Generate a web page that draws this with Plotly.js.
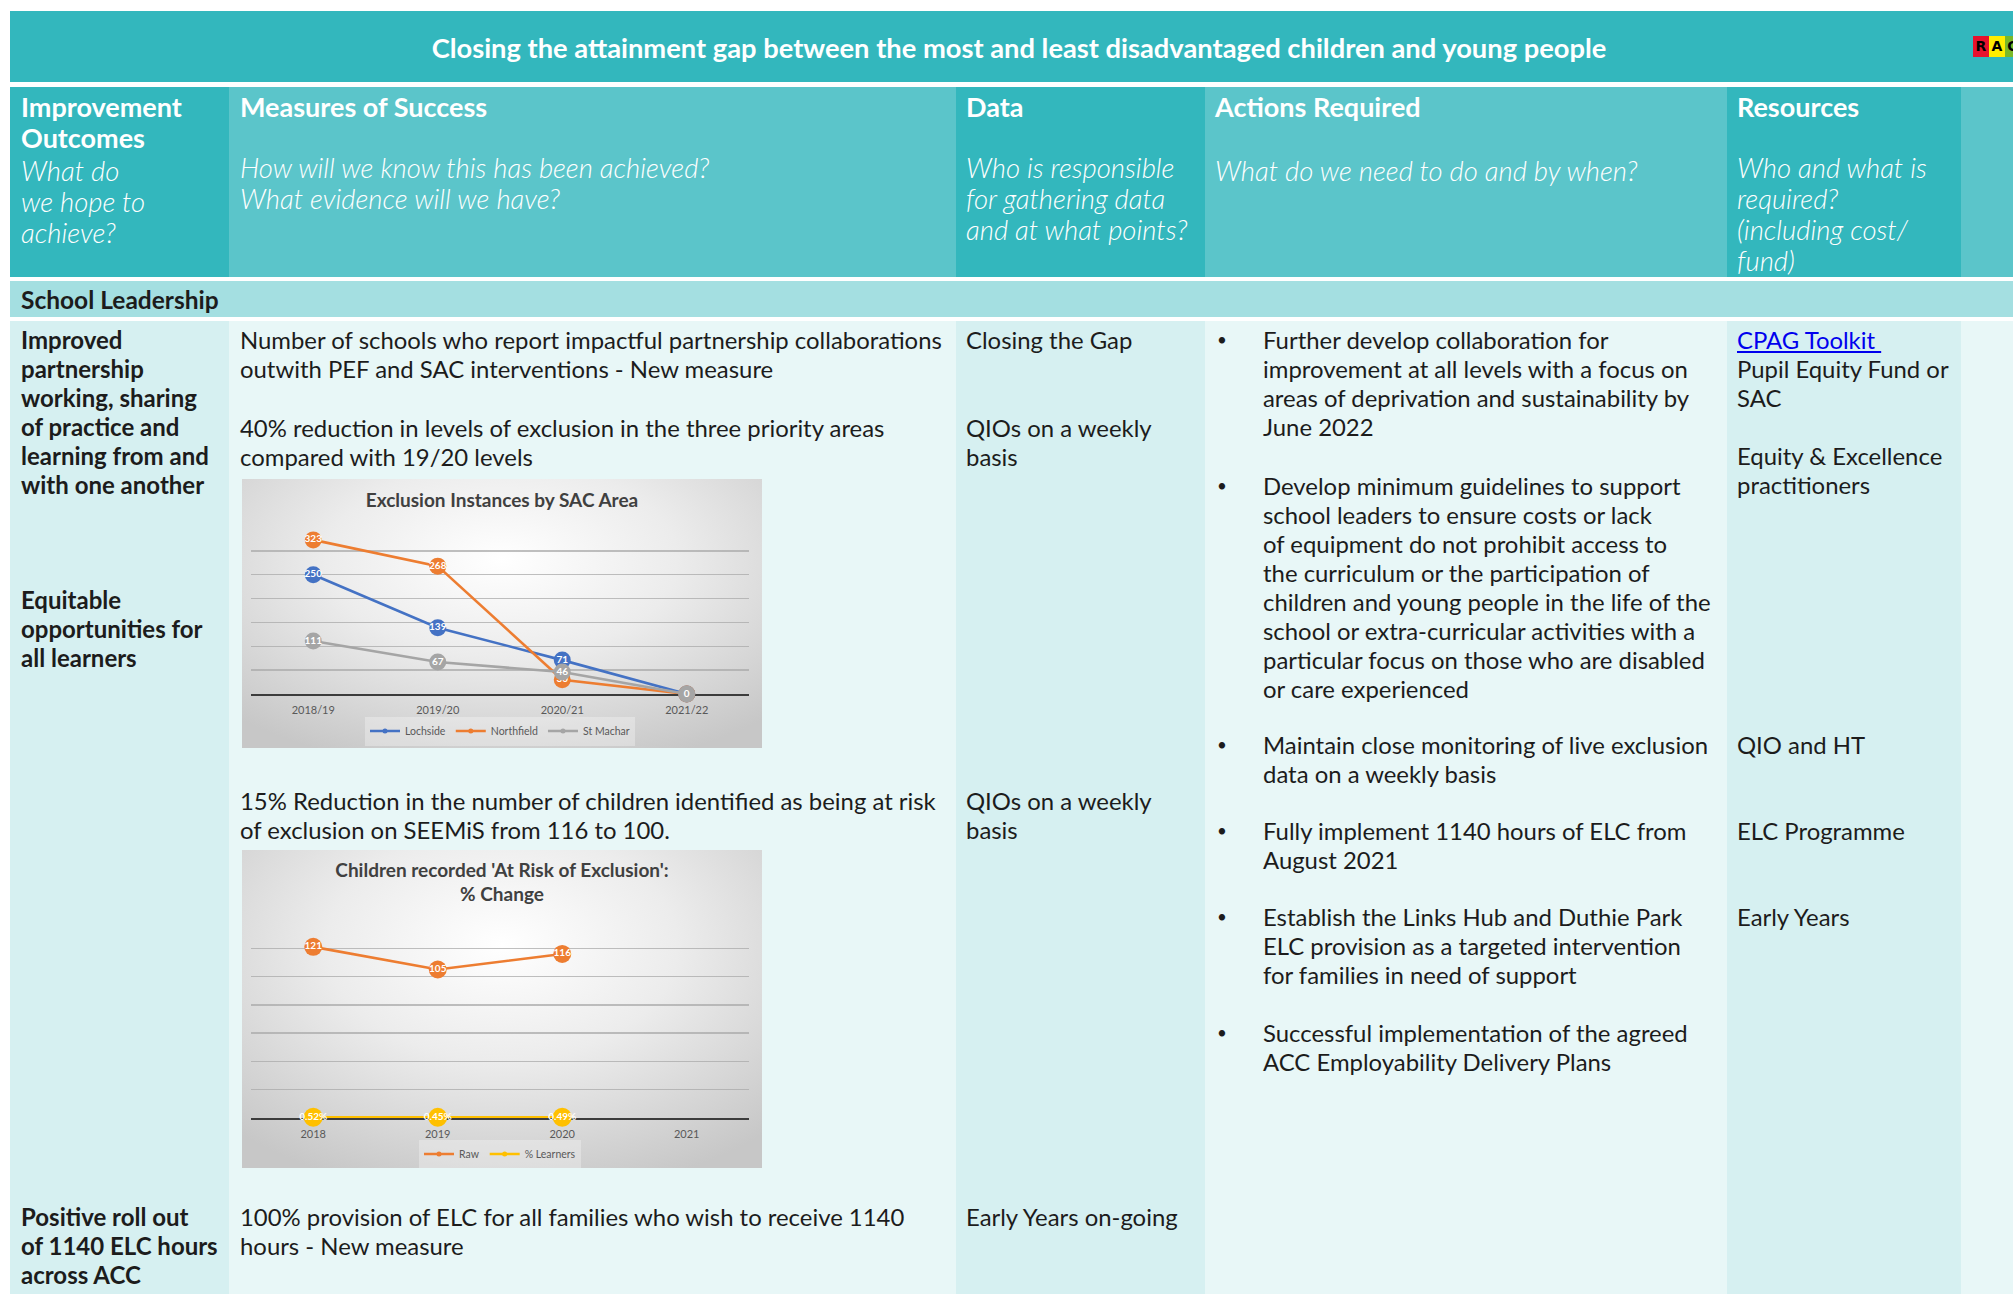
<!DOCTYPE html>
<html>
<head>
<meta charset="utf-8">
<script src="https://cdn.plot.ly/plotly-3.0.1.min.js"></script>
<style>
  html, body { margin:0; padding:0; background:#ffffff; }
  body { width:2013px; height:1294px; overflow:hidden; position:relative; font-family:"Lato", "Open Sans", sans-serif; }
  .bg { position:absolute; }
  .t { position:absolute; white-space:nowrap; }
  .hb { font-weight:700; font-size:27px; line-height:31px; color:#ffffff; }
  .hi { font-weight:300; font-style:italic; font-size:27.5px; line-height:31px; color:#ffffff; }
  .b  { font-weight:400; font-size:23.9px; line-height:29px; color:#1c1c1c; }
  .bb { font-weight:700; font-size:24px; line-height:29px; color:#1c1c1c; }
  .bul { font-size:17px; line-height:29px; color:#1c1c1c; }
  .link { color:#0000ee; text-decoration:underline; }
  .chart { position:absolute; background: radial-gradient(ellipse 75% 80% at 50% 30%, #ffffff 0%, #ececec 45%, #c7c7c7 100%); }
  .rag { position:absolute; top:36px; width:16px; height:21px; font-weight:900; font-size:14px; line-height:21px; text-align:center; color:#000; font-family:"DejaVu Sans", sans-serif; }
</style>
</head>
<body>
<div id="page"></div>
<div id="chart1" class="chart" style="left:242px; top:479px; width:520px; height:269px;"></div>
<div id="chart2" class="chart" style="left:242px; top:850px; width:520px; height:318px;"></div>
<script>
// ---------------- chart data ----------------
const sacYears = ['2018/19', '2019/20', '2020/21', '2021/22'];
const lochside = [250, 139, 71, 0];
const northfield = [323, 268, 30, 0];
const stMachar = [111, 67, 46, 0];

const riskYears = ['2018', '2019', '2020', '2021'];
const riskRaw = [121, 105, 116, null];
const riskPctLearners = [0.52, 0.45, 0.49, null];

// ---------------- table text ----------------
const pageTitle = 'Closing the attainment gap between the most and least disadvantaged children and young people';
const headerBold = ['Improvement<br>Outcomes', 'Measures of Success', 'Data', 'Actions Required', 'Resources'];
const headerItalic = [
  'What do<br>we hope to<br>achieve?',
  'How will we know this has been achieved?<br>What evidence will we have?',
  'Who is responsible<br>for gathering data<br>and at what points?',
  'What do we need to do and by when?',
  'Who and what is<br>required?<br>(including cost/<br>fund)'
];
const sectionName = 'School Leadership';

// ---------------- layout geometry (px) ----------------
const colX = [10, 229, 956, 1205, 1727, 1961, 2100];
const darkCol = [true, false, true, false, true, false];
const page = document.getElementById('page');

function rect(x, y, w, h, c) {
  const d = document.createElement('div');
  d.className = 'bg';
  d.style.cssText = `left:${x}px;top:${y}px;width:${w}px;height:${h}px;background:${c};`;
  page.appendChild(d);
}
function txt(x, top, cls, html, extra) {
  const d = document.createElement('div');
  d.className = 't ' + cls;
  d.style.left = x + 'px';
  d.style.top = top + 'px';
  if (extra) d.style.cssText += extra;
  d.innerHTML = html;
  page.appendChild(d);
  return d;
}

// title band
rect(10, 11, 2100, 71, '#33b7bd');
// header row
for (let i = 0; i < 6; i++) rect(colX[i], 87, colX[i + 1] - colX[i], 190, darkCol[i] ? '#33b7bd' : '#5bc5ca');
// section row
rect(10, 281, 2100, 36, '#a4dfe1');
// body
for (let i = 0; i < 6; i++) rect(colX[i], 321, colX[i + 1] - colX[i], 1000, darkCol[i] ? '#d6f0f1' : '#e8f7f7');

// title text
txt(0, 48 - 16.5, 'hb', pageTitle, 'font-size:27.3px;width:2038px;text-align:center;');
// RAG squares
[['R', '#e8112d', 1973], ['A', '#ffed00', 1989], ['G', '#7ab929', 2005]].forEach(r => {
  const d = document.createElement('div');
  d.className = 'rag';
  d.style.left = r[2] + 'px';
  d.style.background = r[1];
  d.textContent = r[0];
  page.appendChild(d);
});

// header texts
const hx = [21, 240, 966, 1215, 1737];
const hiY = [171, 168, 168, 171, 168];
for (let i = 0; i < 5; i++) {
  txt(hx[i], 108 - 17.5, 'hb', headerBold[i]);
  txt(hx[i], hiY[i] - 16.5, 'hi', headerItalic[i]);
}

// section
txt(21, 300 - 15, 'bb', sectionName, 'font-size:24.5px;');

// body text blocks: [x, yCenterOfFirstLine, class, html]
const bodyBlocks = [
  [21, 340, 'bb', 'Improved<br>partnership<br>working, sharing<br>of practice and<br>learning from and<br>with one another'],
  [21, 600, 'bb', 'Equitable<br>opportunities for<br>all learners'],
  [21, 1217, 'bb', 'Positive roll out<br>of 1140 ELC hours<br>across ACC'],

  [240, 340, 'b', 'Number of schools who report impactful partnership collaborations<br>outwith PEF and SAC interventions - New measure'],
  [240, 428, 'b', '40% reduction in levels of exclusion in the three priority areas<br>compared with 19/20 levels'],
  [240, 801, 'b', '15% Reduction in the number of children identified as being at risk<br>of exclusion on SEEMiS from 116 to 100.'],
  [240, 1217, 'b', '100% provision of ELC for all families who wish to receive 1140<br>hours - New measure'],

  [966, 340, 'b', 'Closing the Gap'],
  [966, 428, 'b', 'QIOs on a weekly<br>basis'],
  [966, 801, 'b', 'QIOs on a weekly<br>basis'],
  [966, 1217, 'b', 'Early Years on-going'],

  [1263, 340, 'b', 'Further develop collaboration for<br>improvement at all levels with a focus on<br>areas of deprivation and sustainability by<br>June 2022'],
  [1263, 486, 'b', 'Develop minimum guidelines to support<br>school leaders to ensure costs or lack<br>of equipment do not prohibit access to<br>the curriculum or the participation of<br>children and young people in the life of the<br>school or extra-curricular activities with a<br>particular focus on those who are disabled<br>or care experienced'],
  [1263, 745, 'b', 'Maintain close monitoring of live exclusion<br>data on a weekly basis'],
  [1263, 831, 'b', 'Fully implement 1140 hours of ELC from<br>August 2021'],
  [1263, 917, 'b', 'Establish the Links Hub and Duthie Park<br>ELC provision as a targeted intervention<br>for families in need of support'],
  [1263, 1033, 'b', 'Successful implementation of the agreed<br>ACC Employability Delivery Plans'],

  [1737, 340, 'b', '<span class="link">CPAG Toolkit&nbsp;</span><br>Pupil Equity Fund or<br>SAC'],
  [1737, 456, 'b', 'Equity &amp; Excellence<br>practitioners'],
  [1737, 745, 'b', 'QIO and HT'],
  [1737, 831, 'b', 'ELC Programme'],
  [1737, 917, 'b', 'Early Years']
];
bodyBlocks.forEach(b => txt(b[0], b[1] - 15, b[2], b[3]));
// bullets
[340, 486, 745, 831, 917, 1033].forEach(y => txt(1217, y - 15, 'bul', '&#8226;'));

// ---------------- charts ----------------
const FONT = 'Lato, "Open Sans", sans-serif';
const labelFont = { family: FONT, size: 10, color: '#ffffff', weight: 700 };

function lineTrace(x, y, name, color, textFmt) {
  return {
    x: x, y: y, name: name, type: 'scatter', mode: 'lines+markers+text',
    line: { color: color, width: 2.6 },
    marker: { color: color, size: 17 },
    text: y.map(v => v === null ? '' : textFmt(v)),
    textposition: 'middle center',
    textfont: labelFont,
    cliponaxis: false,
    showlegend: false,
    hoverinfo: 'skip'
  };
}
function legendTrace(x, name, color) {
  return {
    x: [x[0]], y: [null], name: name, type: 'scatter', mode: 'lines+markers',
    line: { color: color, width: 2.6 }, marker: { color: color, size: 5 },
    showlegend: true, hoverinfo: 'skip'
  };
}
function baseLayout(w, h, m, yRange, dtick, titleText, titleY, legendY) {
  return {
    width: w, height: h,
    margin: m,
    paper_bgcolor: 'rgba(0,0,0,0)',
    plot_bgcolor: 'rgba(0,0,0,0)',
    font: { family: FONT, color: '#595959' },
    title: {
      text: titleText,
      font: { family: FONT, size: 19, color: '#404040' },
      x: 0.5, xanchor: 'center', xref: 'container',
      y: titleY, yanchor: 'middle', yref: 'container'
    },
    xaxis: {
      type: 'category', range: [-0.5, 3.5], showgrid: false,
      showline: true, linecolor: '#3c3c3c', linewidth: 2,
      ticks: '', tickfont: { family: FONT, size: 11, color: '#595959' },
      ticklabelstandoff: 5, layer: 'below traces', fixedrange: true
    },
    yaxis: {
      range: yRange, tick0: 0, dtick: dtick, showticklabels: false,
      showgrid: true, gridcolor: 'rgba(170,170,170,0.75)', gridwidth: 1.5,
      zeroline: false, showline: false, ticks: '', layer: 'below traces', fixedrange: true
    },
    showlegend: true,
    legend: {
      orientation: 'h', x: 0.5, xanchor: 'center',
      y: legendY, yanchor: 'middle', yref: 'container',
      font: { family: FONT, size: 10.5, color: '#595959' },
      bgcolor: 'rgba(255,255,255,0.3)', itemwidth: 30, traceorder: 'normal'
    }
  };
}

const cfg = { staticPlot: true, displayModeBar: false };

const c1 = [
  lineTrace(sacYears, lochside, 'Lochside', '#4472c4', v => String(v)),
  lineTrace(sacYears, northfield, 'Northfield', '#ed7d31', v => String(v)),
  lineTrace(sacYears, stMachar, 'St Machar', '#a5a5a5', v => String(v)),
  legendTrace(sacYears, 'Lochside', '#4472c4'),
  legendTrace(sacYears, 'Northfield', '#ed7d31'),
  legendTrace(sacYears, 'St Machar', '#a5a5a5')
];
Plotly.newPlot('chart1', c1,
  baseLayout(520, 269, { l: 9, r: 13, t: 48, b: 54 }, [0, 350], 50,
    '<b>Exclusion Instances by SAC Area</b>', 1 - 21 / 269, 1 - 252 / 269),
  cfg);

const c2 = [
  lineTrace(riskYears, riskRaw, 'Raw', '#ed7d31', v => String(v)),
  lineTrace(riskYears, riskPctLearners, '% Learners', '#ffc000', v => v.toFixed(2) + '%'),
  legendTrace(riskYears, 'Raw', '#ed7d31'),
  legendTrace(riskYears, '% Learners', '#ffc000')
];
c2[1].marker.size = 19;
c2[0].marker.size = 18;
Plotly.newPlot('chart2', c2,
  baseLayout(520, 318, { l: 9, r: 13, t: 70, b: 50 }, [0, 140], 20,
    "<b>Children recorded 'At Risk of Exclusion':<br>% Change</b>", 1 - 26.5 / 318, 1 - 304 / 318),
  cfg);
</script>
</body>
</html>
